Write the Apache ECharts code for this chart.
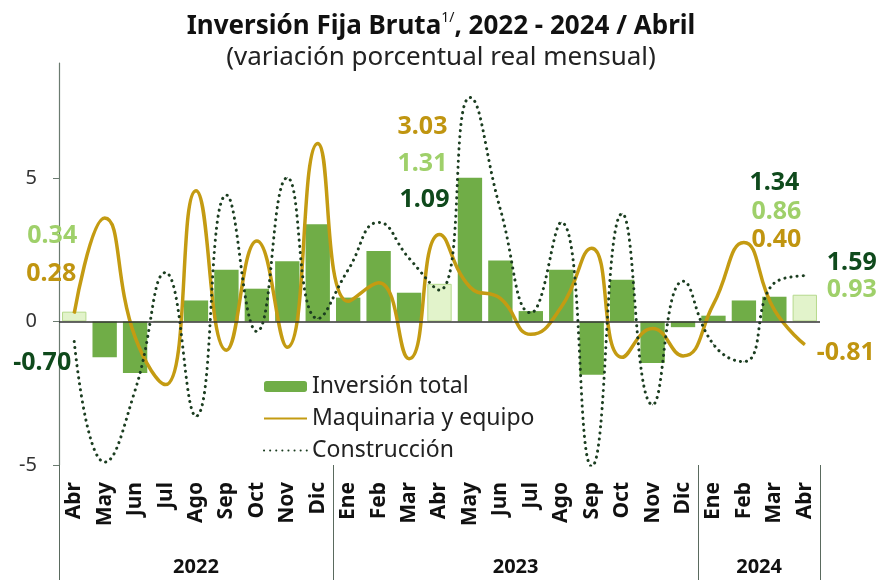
<!DOCTYPE html>
<html>
<head>
<meta charset="utf-8">
<script src="https://cdn.jsdelivr.net/npm/echarts@6/dist/echarts.min.js"></script>
<style>
  html, body { margin: 0; padding: 0; background: #fff; }
  #chart { width: 882px; height: 580px; }
</style>
</head>
<body>
<div id="chart"></div>
<script>
var meses = ["Abr", "May", "Jun", "Jul", "Ago", "Sep", "Oct", "Nov", "Dic",
  "Ene", "Feb", "Mar", "Abr", "May", "Jun", "Jul", "Ago", "Sep", "Oct", "Nov", "Dic",
  "Ene", "Feb", "Mar", "Abr"];
var anios = ["2022", "2023", "2024"];
var mesesPorAnio = [9, 12, 4];

var inversionTotal = [0.34, -1.25, -1.8, 0.02, 0.73, 1.8, 1.14, 2.1, 3.38,
  0.83, 2.45, 1.0, 1.31, 5.0, 2.12, 0.36, 1.8, -1.86, 1.45, -1.45, -0.2,
  0.2, 0.73, 0.86, 0.93];
var maquinaria = [0.28, 3.6, -0.55, -2.2, 4.55, -1.0, 2.8, -0.9, 6.2,
  0.7, 1.35, -1.3, 3.03, 1.2, 0.8, -0.45, 0.5, 2.55, -1.25, -0.25, -1.2,
  0.6, 2.75, 0.40, -0.81];
var construccion = [-0.70, -4.9, -2.4, 1.7, -3.3, 4.4, -0.35, 5.0, 0.1,
  1.8, 3.45, 2.2, 1.09, 7.8, 3.9, 0.3, 3.45, -5.05, 3.75, -2.9, 1.4,
  -0.8, -1.4, 1.34, 1.59];
var yTicks = [-5, 0, 5];

var FONT = "Noto Sans";
var cVerde = "#70ad47";
var cVerdeClaro = "#e2f3cb";
var cOro = "#c49b12";
var cOscuro = "#1b3d20";

// label offsets (px) for the highlighted months: [bar, maquinaria, construccion]
var etiquetas = {
  0: [[-22, -81], [-23, -40], [-32, 21]],
  12: [[-17, -139], [-17, -108], [-15, -90]],
  23: [[2, -97], [2, -70], [0, -100]],
  24: [[47, -18], [41, 8], [47, -13]]
};

// group boundaries for the year axis
var limites = [0];
var centros = [];
mesesPorAnio.forEach(function (n, k) {
  var a = limites[k];
  limites.push(a + n);
  centros.push(a + n / 2);
});

function conEtiqueta(vals, k, color) {
  return vals.map(function (v, i) {
    var item = { value: v };
    if (etiquetas[i]) {
      item.label = {
        show: true,
        position: "inside",
        offset: etiquetas[i][k],
        formatter: v.toFixed(2),
        color: color,
        fontFamily: FONT,
        fontWeight: "bold",
        fontSize: 25
      };
    }
    return item;
  });
}

var ultimoMes = meses[meses.length - 1];
var barras = conEtiqueta(inversionTotal, 0, "#9fd06a").map(function (item, i) {
  if (meses[i] === ultimoMes) {
    item.itemStyle = { color: cVerdeClaro, borderColor: "#b5d98c", borderWidth: 1 };
  }
  return item;
});

var chart = echarts.init(document.getElementById("chart"));
var option = {
  backgroundColor: "#fff",
  animation: false,
  title: {
    left: "center",
    top: 6,
    text: "{b|Inversión Fija Bruta}{s|1/}{b|, 2022 - 2024 / Abril}",
    subtext: "(variación porcentual real mensual)",
    itemGap: 2,
    textStyle: {
      rich: {
        b: { fontFamily: FONT, fontWeight: "bold", fontSize: 26, color: "#111", lineHeight: 32 },
        s: { fontFamily: FONT, fontWeight: "normal", fontSize: 14, color: "#111", lineHeight: 32, verticalAlign: "top" }
      }
    },
    subtextStyle: { fontFamily: FONT, fontSize: 26, color: "#222", lineHeight: 32 }
  },
  legend: {
    orient: "vertical",
    left: 258,
    top: 370,
    itemWidth: 43,
    itemHeight: 11,
    itemGap: 9,
    textStyle: { fontFamily: FONT, fontSize: 23, color: "#222" },
    data: [
      { name: "Inversión total" },
      { name: "Maquinaria y equipo", itemStyle: { opacity: 0 } },
      { name: "Construcción", itemStyle: { opacity: 0 } }
    ]
  },
  grid: { left: 59, right: 62, top: 63, bottom: 115 },
  xAxis: [
    {
      type: "category",
      data: meses,
      position: "bottom",
      axisLine: { show: false },
      axisTick: { show: false },
      axisLabel: {
        rotate: 90,
        interval: 0,
        margin: 17,
        fontFamily: FONT,
        fontWeight: "bold",
        fontSize: 21,
        color: "#111"
      }
    },
    {
      type: "value",
      min: 0,
      max: meses.length,
      position: "bottom",
      axisLine: { show: false },
      splitLine: { show: false },
      axisTick: {
        show: true,
        customValues: limites,
        length: 115,
        lineStyle: { color: "#5a6a5e", width: 1 }
      },
      axisLabel: {
        customValues: centros,
        margin: 92,
        fontFamily: FONT,
        fontWeight: "bold",
        fontSize: 20,
        color: "#111",
        formatter: function (v) {
          return anios[centros.indexOf(v)];
        }
      }
    }
  ],
  yAxis: {
    type: "value",
    min: -5,
    max: 9,
    interval: 5,
    axisLine: { show: true, lineStyle: { color: "#6b7b70", width: 1.2 } },
    axisTick: { show: true, customValues: yTicks, length: 6, lineStyle: { color: "#6b7b70" } },
    axisLabel: {
      customValues: yTicks,
      margin: 22,
      fontFamily: FONT,
      fontSize: 20,
      color: "#333"
    },
    splitLine: { show: false }
  },
  series: [
    {
      name: "Inversión total",
      type: "bar",
      barCategoryGap: "20%",
      itemStyle: { color: cVerde },
      data: barras,
      markLine: {
        silent: true,
        symbol: "none",
        label: { show: false },
        lineStyle: { color: "#333", width: 1.5, type: "solid" },
        data: [{ yAxis: 0 }]
      }
    },
    {
      name: "Maquinaria y equipo",
      type: "line",
      smooth: 0.5,
      symbol: "circle",
      symbolSize: 1,
      itemStyle: { color: cOro },
      lineStyle: { color: cOro, width: 3.5 },
      data: conEtiqueta(maquinaria, 1, "#c09510")
    },
    {
      name: "Construcción",
      type: "line",
      smooth: 0.5,
      symbol: "circle",
      symbolSize: 1,
      itemStyle: { color: cOscuro },
      lineStyle: { color: cOscuro, width: 3, type: [0.1, 6], cap: "round" },
      data: conEtiqueta(construccion, 2, "#0f4a1c")
    }
  ]
};
chart.setOption(option);
</script>
</body>
</html>
